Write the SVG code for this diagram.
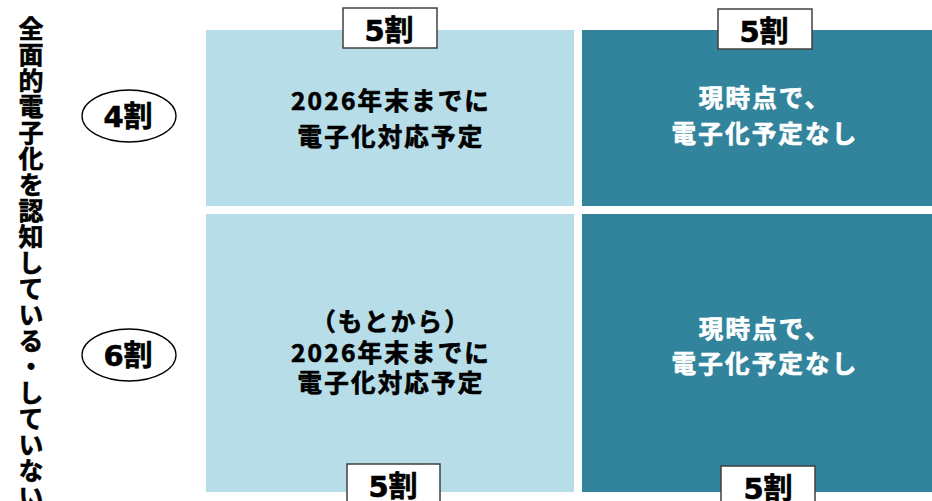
<svg xmlns="http://www.w3.org/2000/svg" width="932" height="501" viewBox="0 0 932 501">
<style>
text{font-family:"Noto Sans CJK JP","Noto Sans CJK SC",sans-serif;font-weight:bold;text-anchor:middle}
.light{fill:#B7DDE8}
.dark{fill:#31849B}
.q{font-size:24.5px;letter-spacing:2.2px;fill:#000;stroke:#000;stroke-width:0.7}
.qw{font-size:24.5px;letter-spacing:2.2px;fill:#fff;stroke:#fff;stroke-width:0.7}
.tag{fill:#fff;stroke:#404040;stroke-width:1.5}
.tagt{font-family:"DejaVu Sans","Noto Sans CJK JP",sans-serif;font-size:29px;fill:#000;stroke:#000;stroke-width:0.6}
.ell{fill:#fff;stroke:#000;stroke-width:1.3}
.side{font-size:25px;fill:#000;stroke:#000;stroke-width:0.6;writing-mode:vertical-rl;text-anchor:start;letter-spacing:1px}
</style>
<rect width="932" height="501" fill="#fff"/>
<g id="axis-label">
<text class="side" x="31" y="16">全面的電子化を認知している・していない</text>
</g>
<g id="q-top-left">
<rect class="light" x="206" y="30" width="368" height="176"/>
<text class="q" x="391" y="110">2026年末までに</text>
<text class="q" x="391" y="146">電子化対応予定</text>
</g>
<g id="q-top-right">
<rect class="dark" x="582" y="30" width="350" height="176"/>
<text class="qw" x="765" y="107">現時点で、</text>
<text class="qw" x="765" y="143">電子化予定なし</text>
</g>
<g id="q-bottom-left">
<rect class="light" x="206" y="214" width="368" height="278"/>
<text class="q" x="391" y="331">（もとから）</text>
<text class="q" x="391" y="362">2026年末までに</text>
<text class="q" x="391" y="392">電子化対応予定</text>
</g>
<g id="q-bottom-right">
<rect class="dark" x="582" y="214" width="350" height="278"/>
<text class="qw" x="765" y="338">現時点で、</text>
<text class="qw" x="765" y="373">電子化予定なし</text>
</g>
<g id="tag-top-left">
<rect class="tag" x="343" y="8" width="94" height="40"/>
<text class="tagt" x="389" y="41">5割</text>
</g>
<g id="tag-top-right">
<rect class="tag" x="718" y="9" width="94" height="40"/>
<text class="tagt" x="764" y="42">5割</text>
</g>
<g id="tag-bottom-left">
<rect class="tag" x="347" y="464" width="93" height="45"/>
<text class="tagt" x="393" y="497">5割</text>
</g>
<g id="tag-bottom-right">
<rect class="tag" x="721" y="466" width="94" height="45"/>
<text class="tagt" x="768" y="499">5割</text>
</g>
<g id="ellipse-4">
<ellipse class="ell" cx="129" cy="116" rx="47" ry="26"/>
<text class="tagt" x="128" y="127">4割</text>
</g>
<g id="ellipse-6">
<ellipse class="ell" cx="129" cy="355" rx="47" ry="26"/>
<text class="tagt" x="128" y="366">6割</text>
</g>
<g id="connectors"></g>
</svg>
